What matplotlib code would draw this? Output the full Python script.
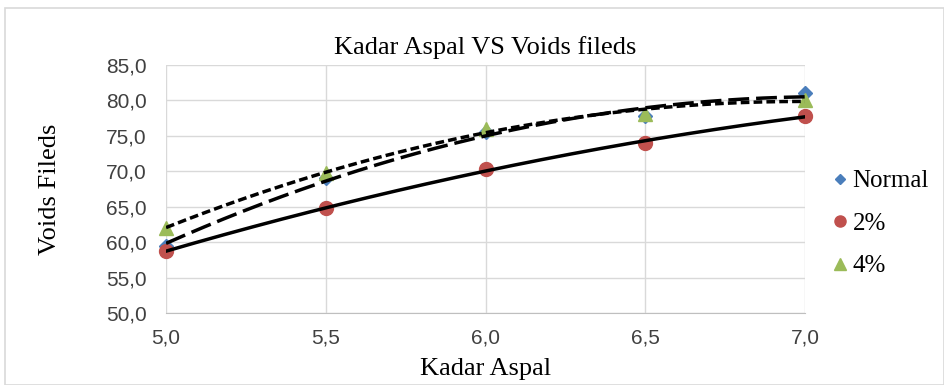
import numpy as np
import matplotlib.pyplot as plt
from matplotlib.patches import Rectangle
from matplotlib.ticker import FuncFormatter

# Data
kadar_aspal = [5.0, 5.5, 6.0, 6.5, 7.0]
normal = [59.5, 69.1, 75.5, 77.8, 81.0]
two_pct = [58.7, 64.8, 70.3, 74.0, 77.8]
four_pct = [62.0, 69.8, 76.0, 78.1, 80.1]

fig = plt.figure(figsize=(9.45, 3.85), dpi=100)
ax = fig.add_axes([0.1757, 0.187, 0.6762, 0.6442])

# Chart border
fig.patches.append(Rectangle((0.005, 0.0), 0.994, 0.978, transform=fig.transFigure,
                             fill=False, edgecolor='#d9d9d9', linewidth=1.2))

x = np.array(kadar_aspal)
xs = np.linspace(5.0, 7.0, 200)

series = [
    ('Normal', normal, '#4a7ebb', 'D', 7, (0, (6, 2))),
    ('2%', two_pct, '#c0504d', 'o', 10, '-'),
    ('4%', four_pct, '#9bbb59', '^', 10, (0, (2.5, 1.2))),
]

for name, vals, color, marker, ms, ls in series:
    ax.plot(x, vals, linestyle='none', marker=marker, color=color, markersize=ms,
            label=name, zorder=3, clip_on=False)
    # polynomial (order 2) trendline
    coef = np.polyfit(x, vals, 2)
    ax.plot(xs, np.polyval(coef, xs), color='black', linewidth=2.5, linestyle=ls, zorder=4)

ax.set_xlim(5.0, 7.0)
ax.set_ylim(50, 85)
ax.set_xticks([5.0, 5.5, 6.0, 6.5, 7.0])
ax.set_yticks(np.arange(50, 86, 5))
fmt = FuncFormatter(lambda v, p: f'{v:.1f}'.replace('.', ','))
ax.xaxis.set_major_formatter(fmt)
ax.yaxis.set_major_formatter(fmt)
ax.grid(True, color='#d9d9d9', linewidth=1.0)
ax.set_axisbelow(True)
for s in ax.spines.values():
    s.set_visible(False)
ax.spines['bottom'].set_visible(True)
ax.spines['bottom'].set_color('#bfbfbf')
ax.tick_params(length=0, labelsize=15)
ax.tick_params(axis='y', pad=14)
ax.tick_params(axis='x', pad=11)
for lab in ax.get_xticklabels() + ax.get_yticklabels():
    lab.set_fontfamily('Liberation Sans')
    lab.set_color('#404040')

serif = 'Liberation Serif'
ax.set_title('Kadar Aspal VS Voids fileds', fontfamily=serif, fontsize=19, pad=8)
ax.set_xlabel('Kadar Aspal', fontfamily=serif, fontsize=19, labelpad=8)
ax.set_ylabel('Voids Fileds', fontfamily=serif, fontsize=19, labelpad=32)

leg = ax.legend(loc='center left', bbox_to_anchor=(1.0, 0.36), frameon=False,
                prop={'family': serif, 'size': 18}, handletextpad=0.0,
                labelspacing=0.8, handlelength=1.0, markerscale=0.8)

fig.savefig('out.png', dpi=100)
